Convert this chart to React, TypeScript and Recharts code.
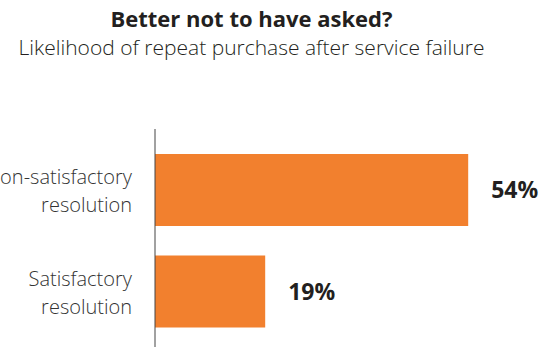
import React from 'react';
import { BarChart, Bar, XAxis, YAxis, LabelList } from 'recharts';

const categories = ['Non-satisfactory resolution', 'Satisfactory resolution'];
const tickLines = [['Non-satisfactory', 'resolution'], ['Satisfactory', 'resolution']];
const values = [54, 19];

const data = categories.map((c, i) => ({ name: c, value: values[i] }));

const FONT = '"Open Sans", sans-serif';

const CategoryTick = (props: any) => {
  const { x, y, payload } = props;
  const idx = categories.indexOf(payload.value);
  const lines = tickLines[idx] || [payload.value];
  return (
    <g>
      {lines.map((l: string, i: number) => (
        <text
          key={i}
          x={x}
          y={y + (i === 0 ? -13 : 15)}
          textAnchor="end"
          dominantBaseline="central"
          fontFamily={FONT}
          fontSize={20}
          fontWeight={300}
          fill="#333"
        >
          {l}
        </text>
      ))}
    </g>
  );
};

const App: React.FC = () => {
  return (
    <div style={{ position: 'absolute', left: 0, top: 0, width: 543, height: 347, overflow: 'hidden', background: '#fff' }}>
      <div style={{ position: 'absolute', left: 0, width: 503, top: 3, textAlign: 'center', fontFamily: FONT, fontWeight: 700, fontSize: 22, color: '#231f20', lineHeight: '30px' }}>
        Better not to have asked?
      </div>
      <div style={{ position: 'absolute', left: 0, width: 503, top: 32, textAlign: 'center', fontFamily: FONT, fontWeight: 300, fontSize: 21, color: '#231f20', lineHeight: '30px' }}>
        Likelihood of repeat purchase after service failure
      </div>
      <BarChart
        layout="vertical"
        width={543}
        height={352}
        data={data}
        margin={{ top: 129, right: 40, bottom: 0, left: 0 }}
      >
        <XAxis type="number" domain={[0, 60]} hide />
        <YAxis
          type="category"
          dataKey="name"
          width={155}
          axisLine={{ stroke: '#444', strokeWidth: 1 }}
          tickLine={false}
          tickSize={0}
          tickMargin={23}
          padding={{ top: 10, bottom: 10 }}
          tick={<CategoryTick />}
        />
        <Bar dataKey="value" fill="#f2802e" barSize={72} isAnimationActive={false}>
          <LabelList
            dataKey="value"
            position="right"
            offset={23}
            formatter={(v: any) => `${v}%`}
            style={{ fontFamily: FONT, fontWeight: 700, fontSize: 23, fill: '#231f20' }}
          />
        </Bar>
      </BarChart>
    </div>
  );
};

export default App;
